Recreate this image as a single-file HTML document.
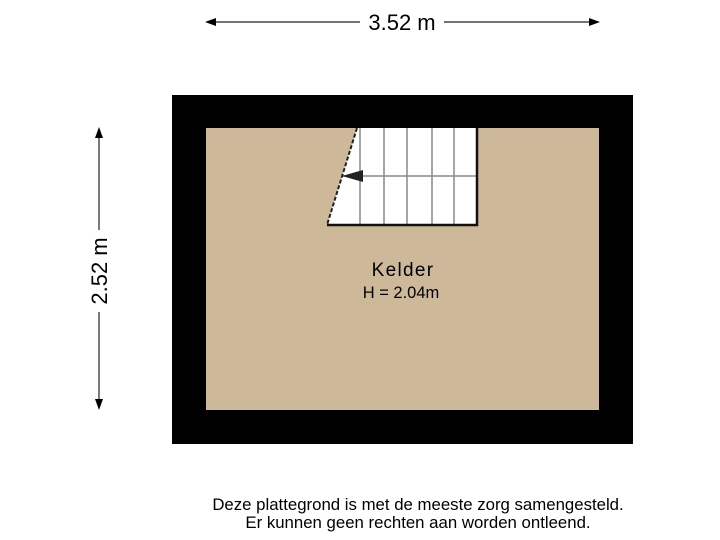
<!DOCTYPE html>
<html><head><style>body{margin:0;background:#fff}</style></head><body>
<svg width="720" height="540" xmlns="http://www.w3.org/2000/svg" style="display:block;font-family:'Liberation Sans',sans-serif">
<rect x="172" y="95" width="461" height="349" fill="#000"/>
<rect x="206" y="128" width="393" height="282" fill="#cdb89a"/>
<polygon points="357,128 477,128 477,225 327,225" fill="#fff"/>
<g stroke="#888" stroke-width="1.5">
<line x1="360" y1="128" x2="360" y2="225"/><line x1="384" y1="128" x2="384" y2="225"/>
<line x1="407" y1="128" x2="407" y2="225"/><line x1="432" y1="128" x2="432" y2="225"/>
<line x1="454" y1="128" x2="454" y2="225"/><line x1="342" y1="176" x2="477" y2="176"/>
</g>
<line x1="357" y1="128" x2="327" y2="225" stroke="#222" stroke-width="2" stroke-dasharray="4,2"/>
<polyline points="327,225 477,225 477,128" fill="none" stroke="#111" stroke-width="2.5"/>
<polygon points="342,176 363,170 363,182" fill="#222"/>
<text x="403" y="276" font-size="19" text-anchor="middle" letter-spacing="1.3">Kelder</text>
<text x="401" y="298" font-size="16.5" text-anchor="middle">H = 2.04m</text>
<g stroke="#222" stroke-width="1.2">
<line x1="210" y1="22" x2="360" y2="22"/><line x1="444" y1="22" x2="596" y2="22"/>
<line x1="99" y1="132" x2="99" y2="230"/><line x1="99" y1="312" x2="99" y2="406"/>
</g>
<polygon points="205,22 216,18 216,26" fill="#000"/><polygon points="600,22 589,18 589,26" fill="#000"/>
<polygon points="99,127 95,138 103,138" fill="#000"/><polygon points="99,410 95,399 103,399" fill="#000"/>
<text x="402" y="30" font-size="22" text-anchor="middle">3.52 m</text>
<text x="0" y="0" font-size="22" text-anchor="middle" transform="translate(107,271) rotate(-90)">2.52 m</text>
<text x="418" y="510" font-size="16.8" text-anchor="middle">Deze plattegrond is met de meeste zorg samengesteld.</text>
<text x="418" y="528" font-size="16.8" text-anchor="middle">Er kunnen geen rechten aan worden ontleend.</text>
</svg>
</body></html>
